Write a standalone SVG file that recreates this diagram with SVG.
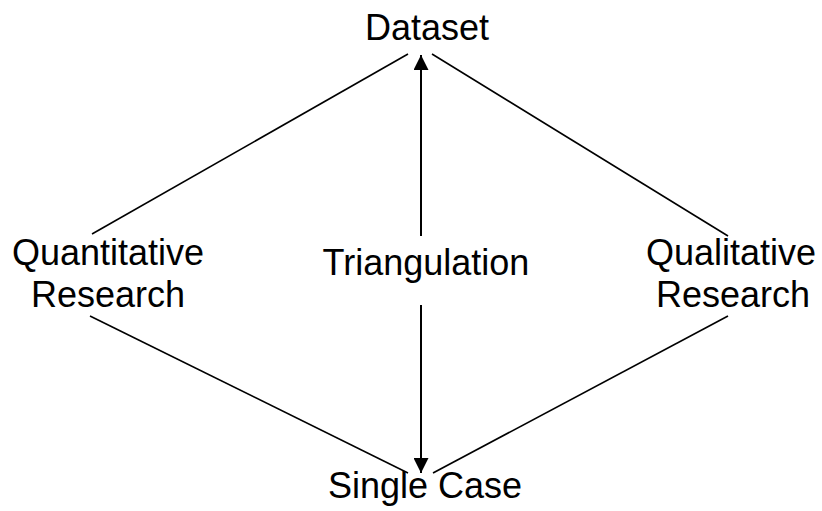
<svg xmlns="http://www.w3.org/2000/svg" width="822" height="511" viewBox="0 0 822 511">
  <style>
    .label { font-family: "Liberation Sans", Arial, sans-serif; font-size: 36px; fill: #000; text-anchor: middle; }
    .edge { stroke: #000; stroke-width: 1.6; fill: none; }
    .arrow { stroke: #000; stroke-width: 2; fill: none; marker-end: url(#head); }
  </style>
  <defs>
    <marker id="head" viewBox="0 0 15 15" refX="15" refY="7.5" markerWidth="15" markerHeight="15" markerUnits="userSpaceOnUse" orient="auto">
      <path d="M0,0 L15,7.5 L0,15 Z" fill="#000"/>
    </marker>
  </defs>
  <rect width="822" height="511" fill="#fff"/>

  <g id="connectors">
    <line class="edge" x1="92" y1="234" x2="408" y2="54"/>
    <line class="edge" x1="432" y1="54" x2="728" y2="236"/>
    <line class="edge" x1="90" y1="316" x2="408" y2="473"/>
    <line class="edge" x1="433" y1="473" x2="728" y2="316"/>
    <line class="arrow" x1="421" y1="236" x2="421" y2="55"/>
    <line class="arrow" x1="421" y1="305" x2="421" y2="473"/>
  </g>

  <g id="dataset">
    <text class="label" x="427" y="40">Dataset</text>
  </g>
  <g id="quantitative">
    <text class="label" x="108" y="265">Quantitative</text>
    <text class="label" x="108" y="307">Research</text>
  </g>
  <g id="triangulation">
    <text class="label" x="426" y="275">Triangulation</text>
  </g>
  <g id="qualitative">
    <text class="label" x="731" y="265">Qualitative</text>
    <text class="label" x="733" y="307">Research</text>
  </g>
  <g id="single-case">
    <text class="label" x="425" y="498">Single Case</text>
  </g>
</svg>
